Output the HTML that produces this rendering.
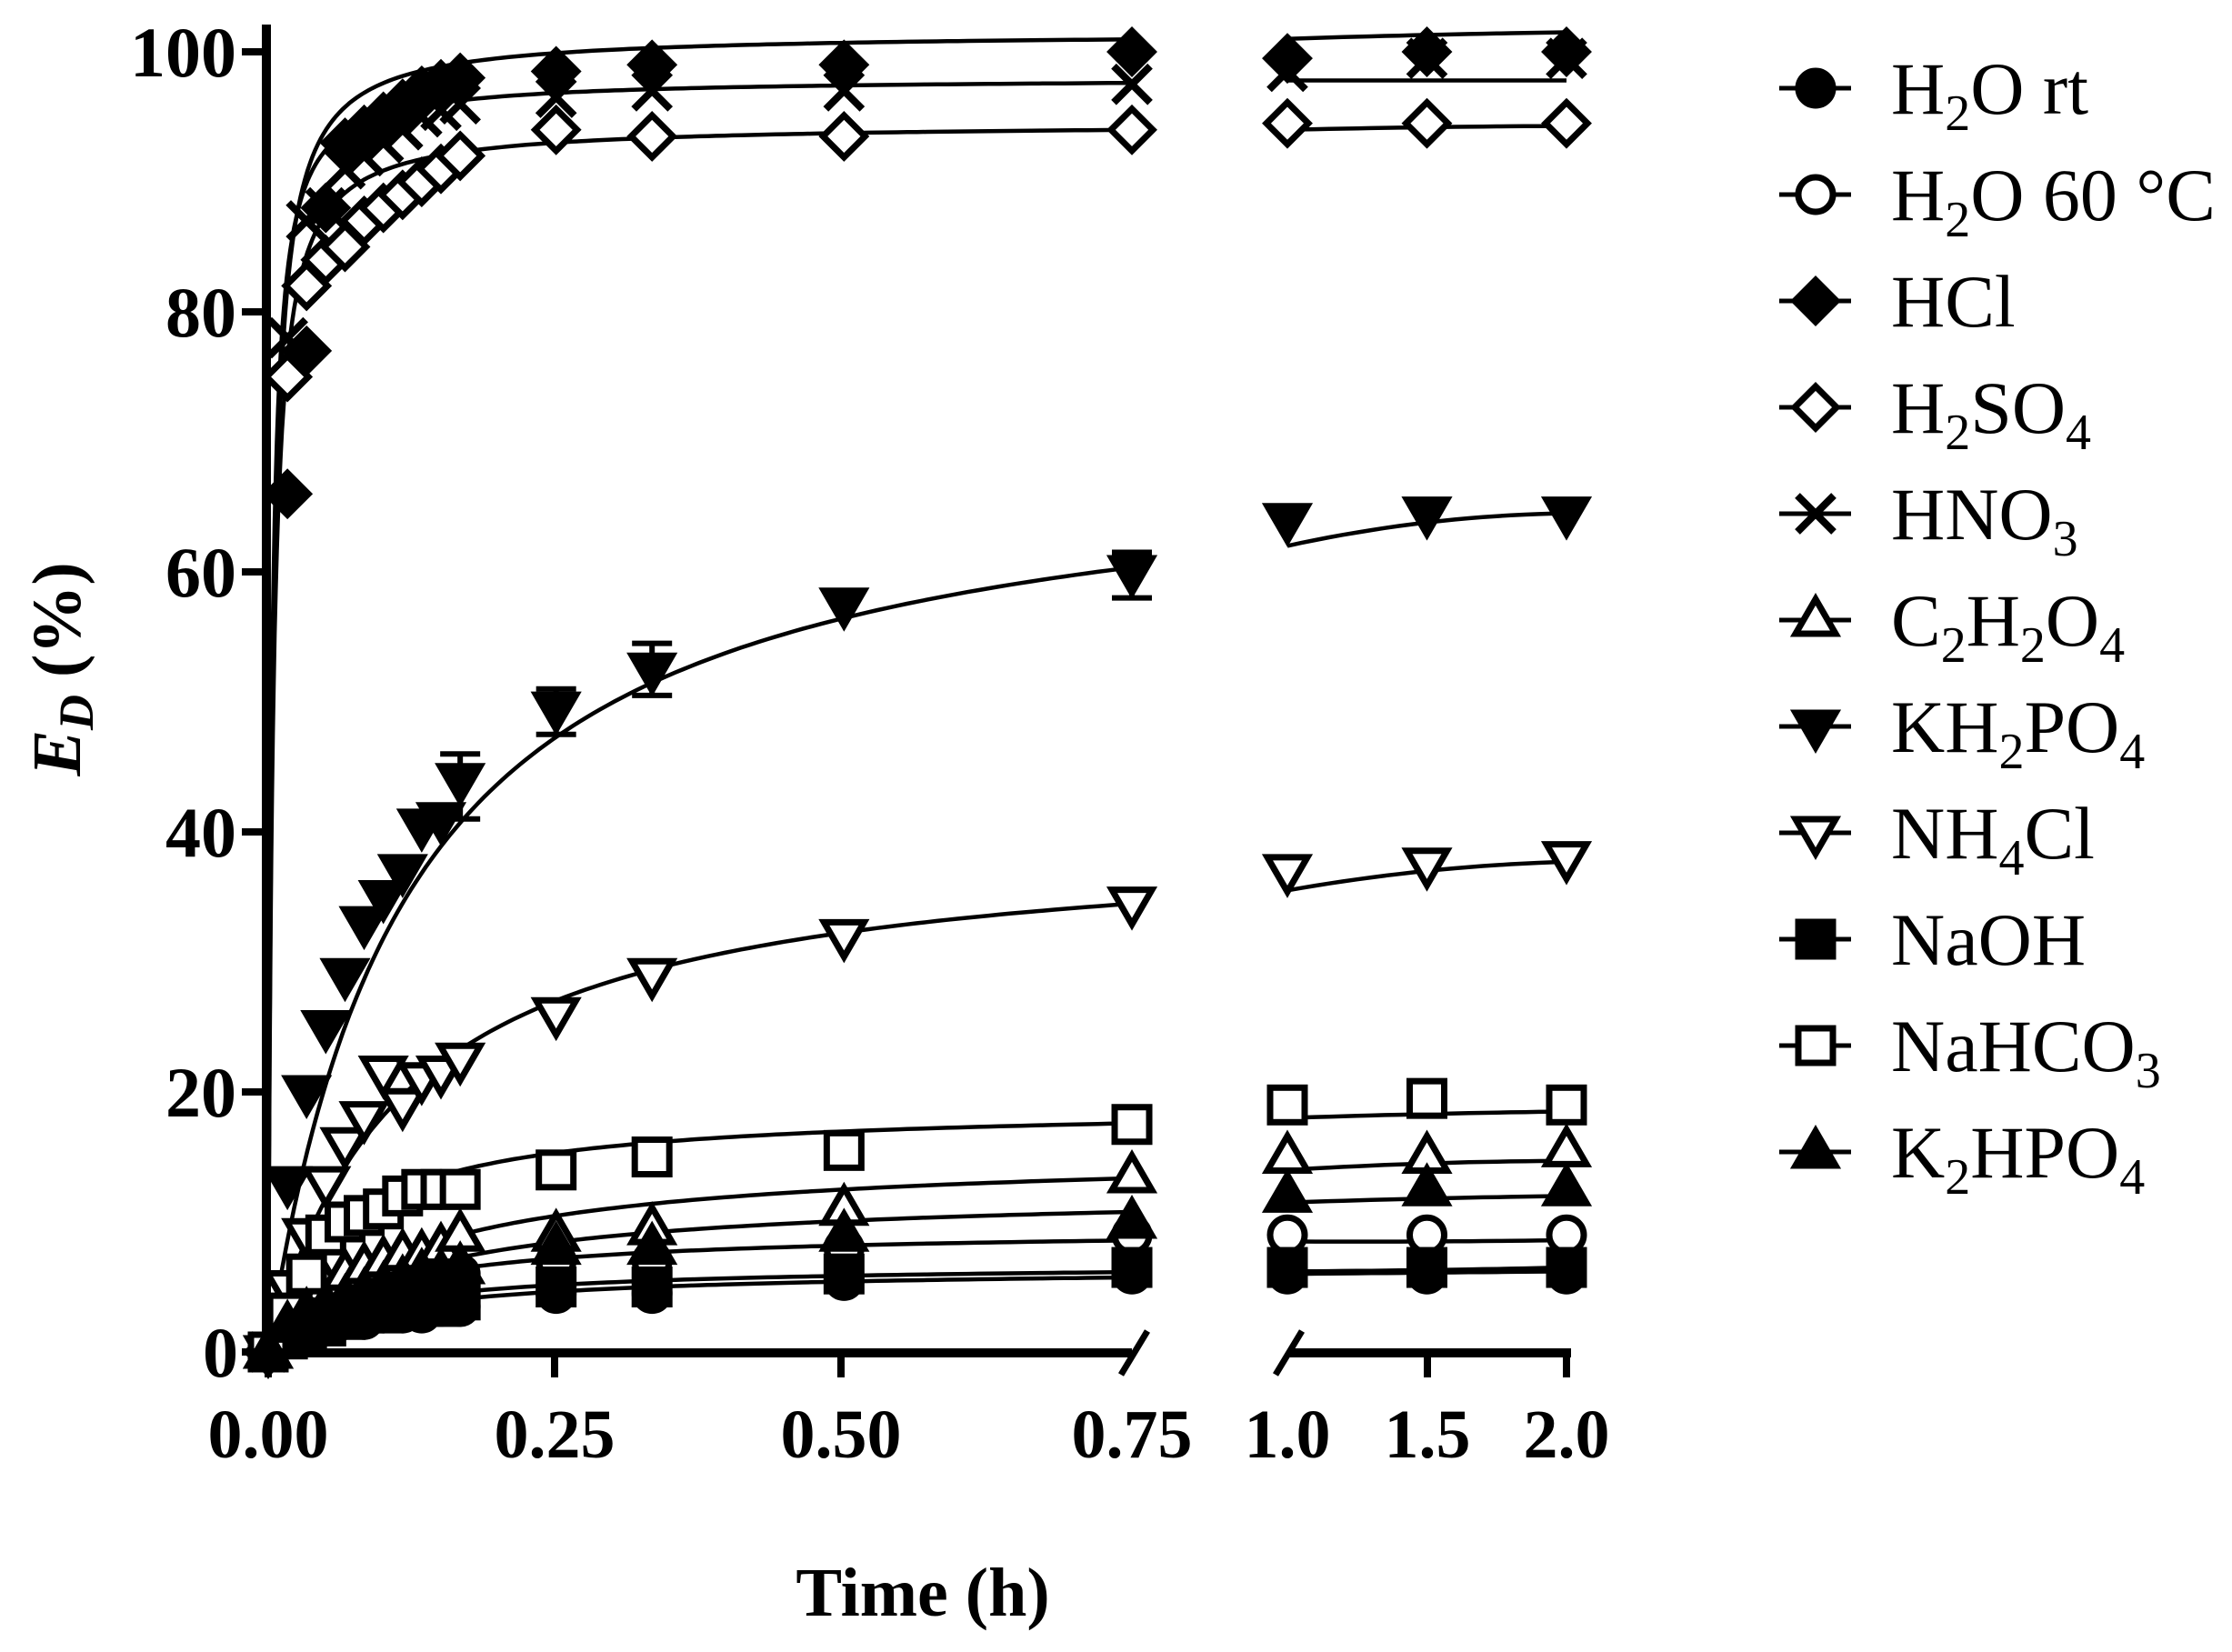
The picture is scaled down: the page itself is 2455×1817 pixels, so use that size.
<!DOCTYPE html>
<html><head><meta charset="utf-8"><style>
html,body{margin:0;padding:0;background:#fff;}
svg{display:block;}
.t{font-family:"Liberation Serif",serif;font-weight:bold;fill:#000;}
.lg{font-family:"Liberation Serif",serif;fill:#000;font-size:82px;}
</style></head><body>
<svg id="s" width="2455" height="1817" viewBox="0 0 2455 1817" xmlns="http://www.w3.org/2000/svg">
<rect width="2455" height="1817" fill="#fff"/>
<g id="plot"></g>
<g stroke="#000" fill="none">
<line x1="293" y1="27" x2="293" y2="1493" stroke-width="10"/>
<line x1="288" y1="1488" x2="1245" y2="1488" stroke-width="10"/>
<line x1="1233" y1="1512" x2="1262" y2="1464" stroke-width="7"/>
<line x1="1418" y1="1488" x2="1728" y2="1488" stroke-width="10"/>
<line x1="1403" y1="1512" x2="1432" y2="1464" stroke-width="7"/>
<g stroke-width="8">
<line x1="266" y1="57" x2="293" y2="57"/><line x1="266" y1="343" x2="293" y2="343"/>
<line x1="266" y1="629" x2="293" y2="629"/><line x1="266" y1="915" x2="293" y2="915"/>
<line x1="266" y1="1201" x2="293" y2="1201"/><line x1="266" y1="1487" x2="293" y2="1487"/>
<line x1="295" y1="1488" x2="295" y2="1515"/><line x1="610" y1="1488" x2="610" y2="1515"/>
<line x1="925" y1="1488" x2="925" y2="1515"/><line x1="1570" y1="1488" x2="1570" y2="1515"/>
<line x1="1723" y1="1488" x2="1723" y2="1515"/>
</g></g>
<g class="t" font-size="78" text-anchor="end">
<text x="260" y="84">100</text><text x="260" y="370">80</text><text x="260" y="656">60</text>
<text x="260" y="942">40</text><text x="260" y="1228">20</text><text x="262" y="1514">0</text>
</g>
<g class="t" font-size="76" text-anchor="middle">
<text x="295" y="1603">0.00</text><text x="610" y="1603">0.25</text><text x="925" y="1603">0.50</text>
<text x="1245" y="1603">0.75</text><text x="1416" y="1603">1.0</text><text x="1570" y="1603">1.5</text><text x="1723" y="1603">2.0</text>
<text x="1015" y="1777">Time (h)</text>
</g>
<text class="t" font-size="76" text-anchor="middle" transform="translate(88,736) rotate(-90)"><tspan font-style="italic">E</tspan><tspan font-style="italic" font-size="54" dy="14">D</tspan><tspan dy="-14"> (%)</tspan></text>
<g id="leg"></g>
<g class="lg">
<text x="2080" y="125">H<tspan font-size="56" dy="18">2</tspan><tspan dy="-18">O rt</tspan></text>
<text x="2080" y="242">H<tspan font-size="56" dy="18">2</tspan><tspan dy="-18">O 60 °C</tspan></text>
<text x="2080" y="359">HCl</text>
<text x="2080" y="476">H<tspan font-size="56" dy="18">2</tspan><tspan dy="-18">SO</tspan><tspan font-size="56" dy="18">4</tspan></text>
<text x="2080" y="593">HNO<tspan font-size="56" dy="18">3</tspan></text>
<text x="2080" y="710">C<tspan font-size="56" dy="18">2</tspan><tspan dy="-18">H</tspan><tspan font-size="56" dy="18">2</tspan><tspan dy="-18">O</tspan><tspan font-size="56" dy="18">4</tspan></text>
<text x="2080" y="827">KH<tspan font-size="56" dy="18">2</tspan><tspan dy="-18">PO</tspan><tspan font-size="56" dy="18">4</tspan></text>
<text x="2080" y="944">NH<tspan font-size="56" dy="18">4</tspan><tspan dy="-18">Cl</tspan></text>
<text x="2080" y="1061">NaOH</text>
<text x="2080" y="1178">NaHCO<tspan font-size="56" dy="18">3</tspan></text>
<text x="2080" y="1295">K<tspan font-size="56" dy="18">2</tspan><tspan dy="-18">HPO</tspan><tspan font-size="56" dy="18">4</tspan></text>
</g>
</svg>
<script>
var NS="http://www.w3.org/2000/svg";
var plot=document.getElementById("plot"),leg=document.getElementById("leg");
function X(t){return t<=0.76?295+t*1266.7:1416+(t-1)*307;}
function Y(v){return 1487-v*14.3;}
var T=[0,0.0167,0.0333,0.05,0.0667,0.0833,0.1,0.1167,0.1333,0.15,0.1667,0.25,0.3333,0.5,0.75,1,1.5,2];
var S=[
["circ",1,[0,1,1.5,2,2.5,2.5,3,3,3,3.5,3.5,4.5,4.5,5.5,6,6,6,6],6.5,0.1,[6,6.1,6.2]],
["circ",0,[0,2,3.5,4,4.5,5,5,5.5,5.5,6,6,7,7,8,9,9,9,9],9.5,0.08,[8.5,8.5,8.6]],
["dia",1,[0,66,77,88,93,94,95,96,97,97.5,98,98.5,99,99,100,99.5,100,100],101.5,0.004,[101,101.3,101.5]],
["dia",0,[0,75,82,84,85,87,88,89,90,91,92,94,93.5,93.5,94,94.5,94.5,94.5],94.5,0.004,[94,94.2,94.3]],
["x",1,[0,78,87,88,91,92,93,94,95,95.5,96,96.5,97,97,97.5,98.5,99.5,99.5],98,0.003,[97.8,97.8,97.8]],
["tu",0,[0,3,4,5,6,6.5,7,7.5,7.5,8,9,9,9.5,11,13.5,15,15,15.5],15.5,0.12,[14,14.5,14.7]],
["td",1,[0,13,20,25,29,33,35,37,40.5,41,44,49.5,52.5,57.5,60,64,64.5,64.5],70,0.12,[62,63.8,64.5]],
["td",0,[0,5,9,13,16,18,21.5,19,21,21.5,22.5,26,29,32,34.5,37,37.5,38],40,0.12,[35.5,37,37.7]],
["sq",1,[0,1,1.5,2,2.5,3,3,3.5,3.5,3.5,4,5,5,6,6.5,6.5,6.5,6.5],6.8,0.08,[6.2,6.3,6.5]],
["sq",0,[0,3,6,9,10,10.5,11,12,12.5,12.5,12.5,14,15,15.5,17.5,19,19.5,19],19,0.06,[18,18.3,18.5]],
["tu",1,[0,2,3,3.5,4,4.5,5,5.5,6,6,6.5,8,8,9,10,12,12.5,12.5],12.5,0.12,[11.5,11.8,12]]
];
function el(n,a,p){var e=document.createElementNS(NS,n);for(var k in a)e.setAttribute(k,a[k]);(p||plot).appendChild(e);return e;}
function marker(type,filled,x,y,p){
 var f=filled?"#000":"#fff",sw=7,a={fill:f,stroke:"#000","stroke-width":sw};
 if(type=="circ"){a.cx=x;a.cy=y;a.r=19;el("circle",a,p);}
 else if(type=="sq"){a.x=x-19;a.y=y-19;a.width=38;a.height=38;el("rect",a,p);}
 else if(type=="dia"){a.points=[x,y-23,x+23,y,x,y+23,x-23,y].join(",");el("polygon",a,p);}
 else if(type=="tu"){a.points=[x,y-23,x+22,y+15,x-22,y+15].join(",");el("polygon",a,p);}
 else if(type=="td"){a.points=[x,y+23,x+22,y-15,x-22,y-15].join(",");el("polygon",a,p);}
 else if(type=="x"){el("path",{d:"M"+(x-20)+","+(y-20)+"L"+(x+20)+","+(y+20)+"M"+(x+20)+","+(y-20)+"L"+(x-20)+","+(y+20),stroke:"#000","stroke-width":8,fill:"none"},p);}
}
S.forEach(function(s){
 var d="",i;
 for(i=0;i<=150;i++){var t=0.75*Math.pow(i/150,2);var v=s[3]*t/(s[4]+t);d+=(i?"L":"M")+X(t).toFixed(1)+","+Y(v).toFixed(1);}
 el("path",{d:d,fill:"none",stroke:"#000","stroke-width":4.5});
 var r=s[5];d="";
 for(i=0;i<=20;i++){var t2=1+i/20;var u=i/20;var v2=r[0]*(1-u)*(1-2*u)+r[1]*4*u*(1-u)+r[2]*u*(2*u-1);d+=(i?"L":"M")+X(t2).toFixed(1)+","+Y(v2).toFixed(1);}
 el("path",{d:d,fill:"none",stroke:"#000","stroke-width":4.5});
});
[[0.1667,41,46],[0.25,47.5,51],[0.3333,50.5,54.5],[0.75,58,61.5]].forEach(function(e){
 var x=X(e[0]);el("path",{d:"M"+x+","+Y(e[1])+"L"+x+","+Y(e[2])+"M"+(x-22)+","+Y(e[1])+"L"+(x+22)+","+Y(e[1])+"M"+(x-22)+","+Y(e[2])+"L"+(x+22)+","+Y(e[2]),stroke:"#000","stroke-width":6,fill:"none"});
});
S.forEach(function(s){for(var i=0;i<T.length;i++)marker(s[0],s[1],X(T[i]),Y(s[2][i]));});
S.forEach(function(s,i){var y=97+i*117;el("line",{x1:1957,y1:y,x2:2036,y2:y,stroke:"#000","stroke-width":5},leg);marker(s[0],s[1],1997,y,leg);});
</script>
</body></html>
